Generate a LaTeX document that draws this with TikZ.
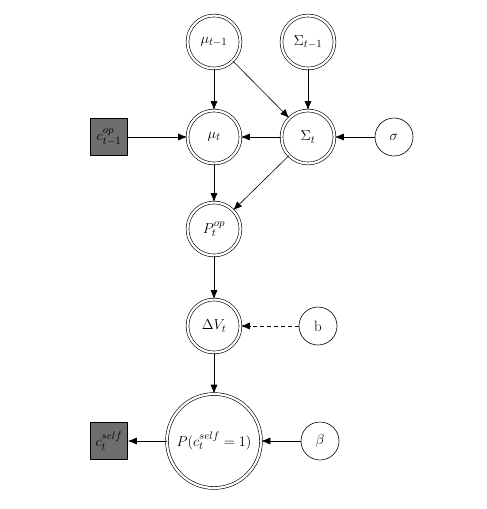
\documentclass[tikz,border=0pt]{standalone}
\usetikzlibrary{arrows.meta}
\begin{document}
\begin{tikzpicture}[x=1pt,y=-1pt,
  font=\fontsize{15}{18}\selectfont,
  dcirc/.style={circle,draw,double,double distance=2.2pt,line width=0.6pt,minimum size=53pt,inner sep=1pt},
  scirc/.style={circle,draw,line width=0.6pt,minimum size=38pt,inner sep=1pt},
  obs/.style={rectangle,draw,fill=black!57,line width=0.6pt,minimum size=37pt,inner sep=0pt},
  edge/.style={line width=0.6pt,-{Latex[length=9pt,width=7pt]}}]
\useasboundingbox (0,0) rectangle (487,509);
\node[dcirc] (mup) at (214,42) {$\mu_{t-1}$};
\node[dcirc] (Sp) at (308,42) {$\Sigma_{t-1}$};
\node[dcirc] (mu) at (214,137) {$\mu_t$};
\node[dcirc] (S) at (308,137) {$\Sigma_t$};
\node[scirc] (sig) at (394,137) {$\sigma$};
\node[obs] (cop) at (109,137) {$c^{op}_{t-1}$};
\node[dcirc] (Pop) at (214,229) {$P^{op}_t$};
\node[dcirc] (dV) at (214,326) {$\Delta V_t$};
\node[scirc] (b) at (318,326) {b};
\node[dcirc,minimum size=94pt,inner sep=0pt] (Pc) at (214,441) {$P(c^{self}_t=1)$};
\node[scirc] (beta) at (320,441) {$\beta$};
\node[obs] (cs) at (109,441) {$c^{self}_t$};
\draw[edge] (mup) -- (mu);
\draw[edge] (mup) -- (S);
\draw[edge] (Sp) -- (S);
\draw[edge] (cop) -- (mu);
\draw[edge] (S) -- (mu);
\draw[edge] (sig) -- (S);
\draw[edge] (mu) -- (Pop);
\draw[edge] (S) -- (Pop);
\draw[edge] (Pop) -- (dV);
\draw[edge,dashed,dash pattern=on 4pt off 3pt] (b) -- (dV);
\draw[edge] (dV) -- (Pc);
\draw[edge] (beta) -- (Pc);
\draw[edge] (Pc) -- (cs);
\end{tikzpicture}
\end{document}
